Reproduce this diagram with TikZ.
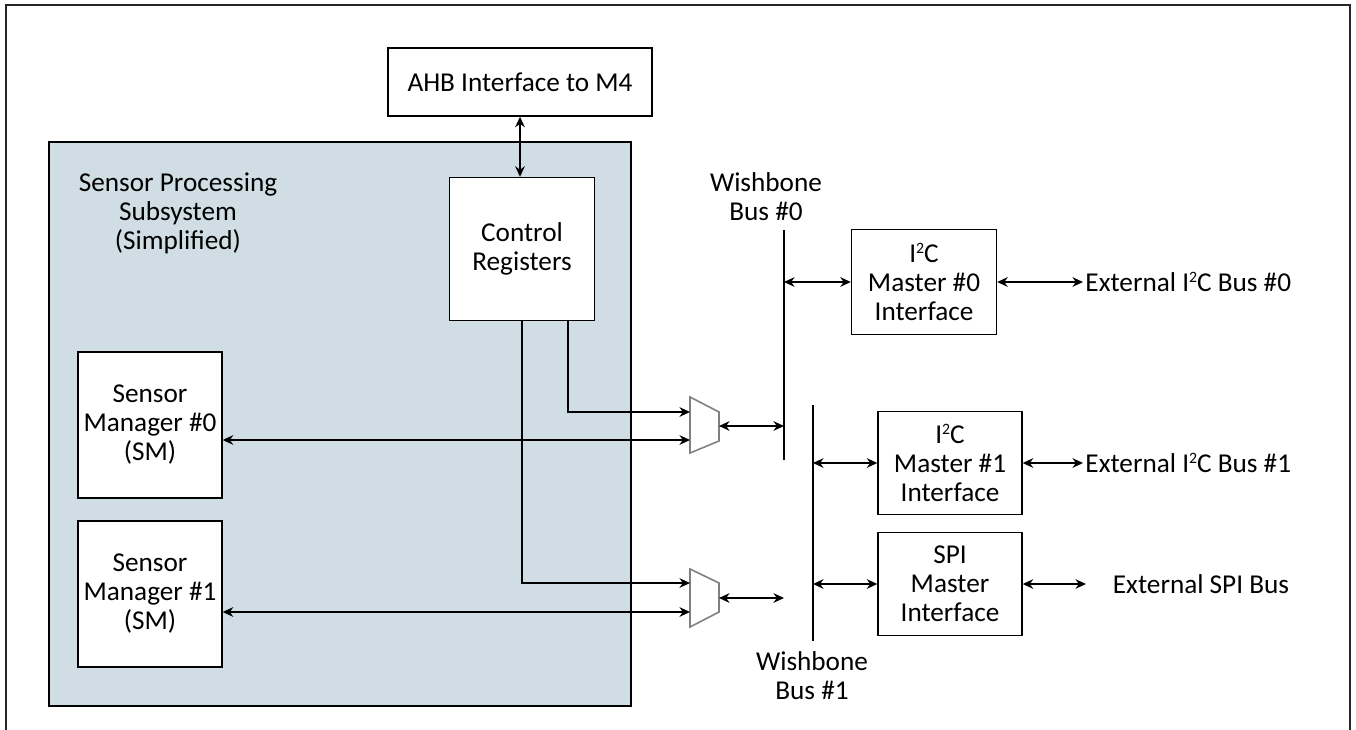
\documentclass[tikz,border=0pt]{standalone}
\usepackage{fontspec}
\setmainfont{Carlito}
\usetikzlibrary{arrows.meta}
\definecolor{spsfill}{RGB}{208,221,228}
\newcommand\twosup{\raisebox{0.36em}{\fontsize{9}{9}\selectfont 2}}

\begin{document}
\begin{tikzpicture}[x=0.02cm, y=-0.02cm, line width=0.8pt, >={Stealth[length=6pt,width=5.5pt]},
            every node/.style={font=\fontsize{15.5}{16.5}\selectfont, align=center},
            blk/.style={draw, fill=white, inner sep=0pt},
            bus/.style={line width=1pt},
            mux/.style={draw=black!50, fill=white, line width=0.9pt}]
  \useasboundingbox (0,0) rectangle (1356,730);
  \draw[line width=1.2pt, draw=black!85] (6,730) -- (6,5) -- (1350,5) -- (1350,730);
  \draw[fill=spsfill] (49,142) rectangle (631,706);
  \node (sps) at (178,213) {Sensor Processing\\Subsystem\\(Simplified)};

  \node[blk, minimum width=5.28cm, minimum height=1.36cm] (ahb) at (520,82) {AHB Interface to M4};
  \node[blk, minimum width=2.9cm, minimum height=2.86cm] (ctrl) at (522,249) {Control\\Registers};
  \node[blk, minimum width=2.88cm, minimum height=2.92cm] (sm0) at (150,425) {Sensor\\Manager \#0\\(SM)};
  \node[blk, minimum width=2.88cm, minimum height=2.92cm] (sm1) at (150,594) {Sensor\\Manager \#1\\(SM)};
  \node[blk, minimum width=2.9cm, minimum height=2.1cm] (i2c0) at (924,282) {I\twosup C\\Master \#0\\Interface};
  \node[blk, minimum width=2.88cm, minimum height=2.06cm] (i2c1) at (950,463) {I\twosup C\\Master \#1\\Interface};
  \node[blk, minimum width=2.88cm, minimum height=2.06cm] (spi) at (950,584) {SPI\\Master\\Interface};

  \node[anchor=west, inner sep=1pt] (ext0) at (1083,282) {External I\twosup C Bus \#0};
  \node[anchor=west, inner sep=1pt] (ext1) at (1083,463) {External I\twosup C Bus \#1};
  \node (ext2) at (1201,584) {External SPI Bus};
  \coordinate (e2) at (1086,584);

  \node (wb0) at (766,197) {Wishbone\\Bus \#0};
  \node (wb1) at (812,676) {Wishbone\\Bus \#1};
  \coordinate (b0t) at (784,230);
  \coordinate (b0b) at (784,460);
  \coordinate (b1t) at (813,405);
  \coordinate (b1b) at (813,641);
  \draw[bus] (b0t) -- (b0b);
  \draw[bus] (b1t) -- (b1b);

  \draw[mux] (690,397) -- (719,412) -- (719,441) -- (690,453) -- cycle;
  \draw[mux] (690,569) -- (719,583) -- (719,612) -- (690,627) -- cycle;
  \coordinate (m0a) at (690,412);
  \coordinate (m0b) at (690,440);
  \coordinate (m0o) at (719,426);
  \coordinate (m1a) at (690,583);
  \coordinate (m1b) at (690,612);
  \coordinate (m1o) at (719,598);

  \draw[<->] (ahb.south) -- (ahb.south |- ctrl.north);
  \draw[->] ([xshift=0.92cm]ctrl.south) |- (m0a);
  \draw[->] (ctrl.south) |- (m1a);
  \draw[<->] (sm0.east |- m0b) -- (m0b);
  \draw[<->] (sm1.east |- m1b) -- (m1b);
  \draw[<->] (m0o) -- (m0o -| b0t);
  \draw[<->] (m1o) -- (m1o -| b0t);
  \draw[<->] (b0t |- i2c0) -- (i2c0.west);
  \draw[<->] (b1t |- i2c1) -- (i2c1.west);
  \draw[<->] (b1t |- spi) -- (spi.west);
  \draw[<->] (i2c0.east) -- (ext0.west);
  \draw[<->] (i2c1.east) -- (ext1.west);
  \draw[<->] (spi.east) -- (e2);
\end{tikzpicture}
\end{document}
